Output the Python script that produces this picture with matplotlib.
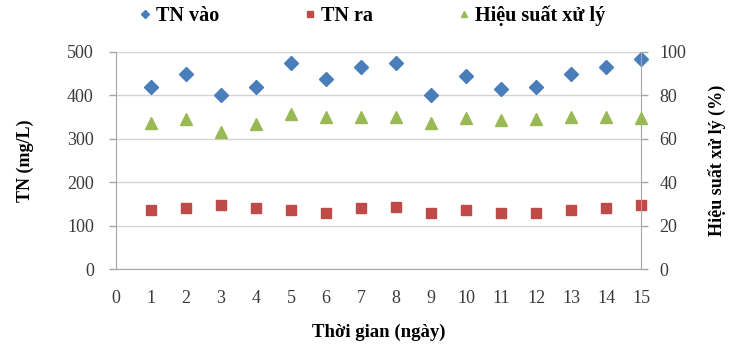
import numpy as np
import matplotlib.pyplot as plt

plt.rcParams['font.family'] = ['Liberation Serif', 'DejaVu Serif']

days = np.arange(1, 16)
tn_in = [420, 450, 400, 420, 475, 437, 466, 475, 400, 445, 415, 420, 450, 466, 485]
tn_out = [137, 140, 147, 140, 135, 130, 140, 143, 130, 135, 130, 130, 135, 140, 147]
efficiency = [67.4, 69, 63.3, 66.7, 71.5, 70.2, 70, 70, 67.5, 69.7, 68.7, 69, 70, 70, 69.7]

x_ticks = np.arange(0, 16)
y_left_ticks = np.arange(0, 501, 100)
y_right_ticks = np.arange(0, 101, 20)

blue = '#4A7EBB'
red = '#BE4B48'
green = '#98B954'
axis_col = '#A6A6A6'
grid_col = '#D4D4D4'
text_col = '#3A3A3A'

fig = plt.figure(figsize=(7.31, 3.48), dpi=100)
ax = fig.add_axes([0.1587, 0.227, 0.7183, 0.6236])
ax2 = ax.twinx()

h1, = ax.plot(days, tn_in, 'D', color=blue, ms=7.5, clip_on=False, zorder=5, label='TN vào')
h2, = ax.plot(days, tn_out, 's', color=red, ms=7, clip_on=False, zorder=5, label='TN ra')
h3, = ax2.plot(days, efficiency, '^', color=green, ms=9, clip_on=False, zorder=5,
               label='Hiệu suất xử lý')

ax.set_xlim(0, 15)
ax.set_ylim(0, 500)
ax2.set_ylim(0, 100)
ax.set_xticks(x_ticks)
ax.set_yticks(y_left_ticks)
ax2.set_yticks(y_right_ticks)

ax.yaxis.grid(True, color=grid_col, lw=1)
ax.set_axisbelow(True)

for a in (ax, ax2):
    a.spines['top'].set_visible(False)
    for s in ('left', 'bottom', 'right'):
        a.spines[s].set_color(axis_col)
ax.spines['right'].set_visible(False)
ax2.spines['left'].set_visible(False)
ax2.spines['bottom'].set_visible(False)

ax.tick_params(axis='x', length=0, pad=15, labelsize=13, labelcolor=text_col)
ax.tick_params(axis='y', length=5, width=1, color=axis_col, pad=11, labelsize=13, labelcolor=text_col)
ax2.tick_params(axis='y', length=5, width=1, color=axis_col, pad=8, labelsize=13, labelcolor=text_col)

ax.set_xlabel('Thời gian (ngày)', fontsize=13.5, fontweight='bold', labelpad=12)
ax.set_ylabel('TN (mg/L)', fontsize=13, fontweight='bold', labelpad=24)
ax2.set_ylabel('Hiệu suất xử lý (%)', fontsize=13, fontweight='bold', labelpad=16)

fig.legend(handles=[h1, h2, h3], loc='center', bbox_to_anchor=(0.506, 0.955), ncol=3,
           frameon=False, prop={'weight': 'bold', 'size': 14.5},
           columnspacing=4.0, handlelength=1.0, handletextpad=0.05, markerscale=0.55)

fig.savefig('out.png', dpi=100)
